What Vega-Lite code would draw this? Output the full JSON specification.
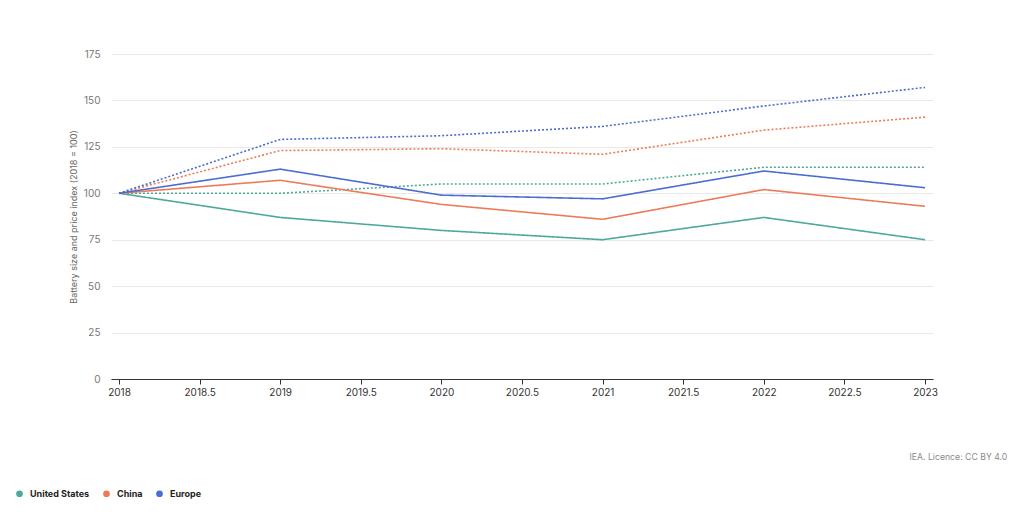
{
  "$schema": "https://vega.github.io/schema/vega-lite/v6.json",
  "width": 822,
  "height": 325,
  "autosize": {"type": "none"},
  "padding": {"left": 111, "top": 54, "right": 91, "bottom": 135},
  "background": "white",
  "title": {
    "text": "IEA. Licence: CC BY 4.0",
    "orient": "bottom",
    "anchor": "end",
    "offset": -46,
    "dx": 70,
    "fontSize": 8.7,
    "fontWeight": "normal",
    "color": "#8a8a8a",
    "font": "Inter"
  },
  "data": {
    "values": [
      {"year": 2018, "value": 100, "country": "United States", "series": "Price"},
      {"year": 2019, "value": 87, "country": "United States", "series": "Price"},
      {"year": 2020, "value": 80, "country": "United States", "series": "Price"},
      {"year": 2021, "value": 75, "country": "United States", "series": "Price"},
      {"year": 2022, "value": 87, "country": "United States", "series": "Price"},
      {"year": 2023, "value": 75, "country": "United States", "series": "Price"},
      {"year": 2018, "value": 100, "country": "United States", "series": "Size"},
      {"year": 2019, "value": 100, "country": "United States", "series": "Size"},
      {"year": 2020, "value": 105, "country": "United States", "series": "Size"},
      {"year": 2021, "value": 105, "country": "United States", "series": "Size"},
      {"year": 2022, "value": 114, "country": "United States", "series": "Size"},
      {"year": 2023, "value": 114, "country": "United States", "series": "Size"},
      {"year": 2018, "value": 100, "country": "China", "series": "Price"},
      {"year": 2019, "value": 107, "country": "China", "series": "Price"},
      {"year": 2020, "value": 94, "country": "China", "series": "Price"},
      {"year": 2021, "value": 86, "country": "China", "series": "Price"},
      {"year": 2022, "value": 102, "country": "China", "series": "Price"},
      {"year": 2023, "value": 93, "country": "China", "series": "Price"},
      {"year": 2018, "value": 100, "country": "China", "series": "Size"},
      {"year": 2019, "value": 123, "country": "China", "series": "Size"},
      {"year": 2020, "value": 124, "country": "China", "series": "Size"},
      {"year": 2021, "value": 121, "country": "China", "series": "Size"},
      {"year": 2022, "value": 134, "country": "China", "series": "Size"},
      {"year": 2023, "value": 141, "country": "China", "series": "Size"},
      {"year": 2018, "value": 100, "country": "Europe", "series": "Price"},
      {"year": 2019, "value": 113, "country": "Europe", "series": "Price"},
      {"year": 2020, "value": 99, "country": "Europe", "series": "Price"},
      {"year": 2021, "value": 97, "country": "Europe", "series": "Price"},
      {"year": 2022, "value": 112, "country": "Europe", "series": "Price"},
      {"year": 2023, "value": 103, "country": "Europe", "series": "Price"},
      {"year": 2018, "value": 100, "country": "Europe", "series": "Size"},
      {"year": 2019, "value": 129, "country": "Europe", "series": "Size"},
      {"year": 2020, "value": 131, "country": "Europe", "series": "Size"},
      {"year": 2021, "value": 136, "country": "Europe", "series": "Size"},
      {"year": 2022, "value": 147, "country": "Europe", "series": "Size"},
      {"year": 2023, "value": 157, "country": "Europe", "series": "Size"}
    ]
  },
  "mark": {"type": "line", "strokeWidth": 1.6},
  "encoding": {
    "x": {
      "field": "year",
      "type": "quantitative",
      "scale": {"domain": [2018, 2023], "nice": false, "zero": false, "padding": 8},
      "axis": {
        "title": null,
        "values": [2018, 2018.5, 2019, 2019.5, 2020, 2020.5, 2021, 2021.5, 2022, 2022.5, 2023],
        "labelExpr": "datum.value + ''",
        "grid": false,
        "domainColor": "#333333",
        "tickColor": "#333333",
        "tickSize": 5,
        "labelColor": "#333333",
        "labelFontSize": 10,
        "labelFont": "Inter",
        "labelPadding": 3
      }
    },
    "y": {
      "field": "value",
      "type": "quantitative",
      "scale": {"domain": [0, 175], "nice": false},
      "axis": {
        "title": "Battery size and price index (2018 = 100)",
        "titleFont": "Inter",
        "titleFontSize": 9,
        "titleFontWeight": "normal",
        "titleColor": "#666666",
        "titlePadding": 5,
        "values": [0, 25, 50, 75, 100, 125, 150, 175],
        "domain": false,
        "ticks": false,
        "gridColor": "#e9e9e9",
        "labelColor": "#777777",
        "labelFontSize": 10,
        "labelFont": "Inter",
        "labelPadding": 11
      }
    },
    "color": {
      "field": "country",
      "type": "nominal",
      "scale": {
        "domain": ["United States", "China", "Europe"],
        "range": ["#4ea99a", "#ee7b57", "#4a6ed0"]
      },
      "legend": {
        "title": null,
        "orient": "none",
        "direction": "horizontal",
        "legendX": -96,
        "legendY": 435,
        "symbolType": "circle",
        "symbolSize": 45,
        "labelFont": "Inter",
        "labelFontSize": 9,
        "labelFontWeight": "bold",
        "labelColor": "#222222",
        "columnPadding": 12,
        "labelOffset": 6,
        "encode": {
          "symbols": {
            "update": {
              "fill": {"scale": "color", "field": "value"},
              "strokeWidth": {"value": 0},
              "opacity": {"value": 1}
            }
          }
        }
      }
    },
    "strokeDash": {
      "field": "series",
      "type": "nominal",
      "scale": {"domain": ["Price", "Size"], "range": [[1, 0], [2, 2]]},
      "legend": null
    },
    "detail": {"field": "series"}
  },
  "config": {
    "view": {"stroke": null}
  }
}
